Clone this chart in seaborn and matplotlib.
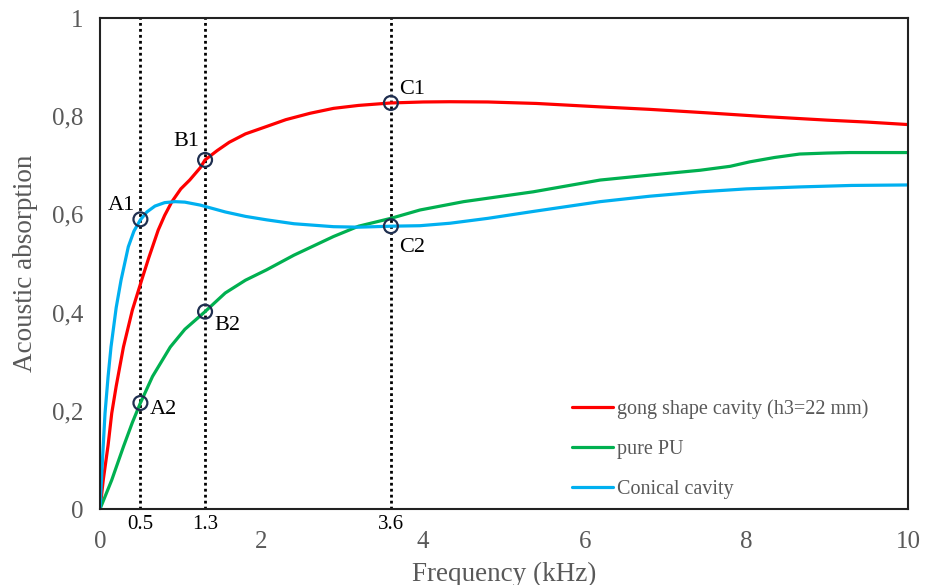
import numpy as np
import pandas as pd
import matplotlib
matplotlib.use('Agg')
import matplotlib.pyplot as plt
import seaborn as sns

# values (frequency in kHz, absorption coefficient)
freq_gong = [0, 0.04, 0.1, 0.145, 0.2, 0.29, 0.4, 0.515, 0.6, 0.72, 0.8, 0.89, 1.0, 1.11, 1.24, 1.3, 1.45, 1.6,
             1.8, 2.06, 2.3, 2.6, 2.89, 3.2, 3.6, 4.0, 4.33, 4.8, 5.4, 6.19, 6.8, 7.5, 8.25, 9.0, 9.5, 10.0]
abs_gong = [0, 0.059, 0.13, 0.195, 0.25, 0.33, 0.405, 0.466, 0.51, 0.568, 0.598, 0.626, 0.652, 0.67, 0.695, 0.711,
            0.73, 0.747, 0.764, 0.779, 0.793, 0.806, 0.816, 0.822, 0.827, 0.829, 0.8295, 0.829, 0.826, 0.819, 0.814,
            0.807, 0.799, 0.792, 0.788, 0.783]

freq_pu = [0, 0.145, 0.29, 0.4, 0.5, 0.65, 0.87, 1.05, 1.3, 1.55, 1.8, 2.06, 2.4, 2.89, 3.2, 3.6, 3.96, 4.5,
           5.36, 6.19, 6.8, 7.43, 7.8, 8.04, 8.35, 8.66, 9.0, 9.28, 9.6, 10.0]
abs_pu = [0, 0.059, 0.127, 0.176, 0.216, 0.27, 0.33, 0.366, 0.402, 0.44, 0.466, 0.487, 0.517, 0.555, 0.576, 0.592,
          0.609, 0.626, 0.646, 0.67, 0.68, 0.69, 0.698, 0.707, 0.716, 0.723, 0.725, 0.726, 0.726, 0.726]

freq_con = [0, 0.03, 0.062, 0.1, 0.136, 0.2, 0.26, 0.35, 0.42, 0.5, 0.58, 0.68, 0.8, 0.93, 1.05, 1.24, 1.55,
            1.8, 2.06, 2.4, 2.89, 3.2, 3.6, 3.96, 4.33, 4.8, 5.36, 6.19, 6.8, 7.43, 8.0, 8.66, 9.3, 10.0]
abs_con = [0, 0.1, 0.195, 0.27, 0.33, 0.41, 0.466, 0.534, 0.566, 0.589, 0.605, 0.617, 0.624, 0.626, 0.625, 0.619,
           0.605, 0.596, 0.589, 0.581, 0.575, 0.574, 0.576, 0.577, 0.582, 0.592, 0.606, 0.626, 0.637, 0.646, 0.652,
           0.656, 0.659, 0.660]

labels = ["gong shape cavity (h3=22 mm)", "pure PU", "Conical cavity"]
colors = ["#FF0000", "#00B050", "#00B0F0"]

marks_x = [0.5, 1.3, 3.6, 0.5, 1.3, 3.6]
marks_y = [0.59, 0.711, 0.827, 0.216, 0.402, 0.576]
marks_txt = ["A1", "B1", "C1", "A2", "B2", "C2"]
marks_off = [(-4, 10), (-4, 13), (6, 10), (7, -5), (7, -10), (6, -15)]

vlines = [0.5, 1.3, 3.6]

df = pd.concat([
    pd.DataFrame({"f": freq_gong, "a": abs_gong, "s": labels[0]}),
    pd.DataFrame({"f": freq_pu, "a": abs_pu, "s": labels[1]}),
    pd.DataFrame({"f": freq_con, "a": abs_con, "s": labels[2]}),
])

sns.set_style("white")
plt.rcParams['font.family'] = ['Liberation Serif', 'DejaVu Serif']

fig, ax = plt.subplots(figsize=(9.33, 5.85), dpi=100)
fig.subplots_adjust(left=0.1072, right=0.9732, top=0.9692, bottom=0.1299)

for v in vlines:
    ax.plot([v, v], [0, 1], color="black", linestyle=(0, (1, 1.15)), lw=2.0, zorder=1)

sns.lineplot(data=df, x="f", y="a", hue="s", palette=colors, hue_order=labels,
             lw=2.3, ax=ax, legend=False, sort=False, zorder=2)

ax.scatter(marks_x, marks_y, s=100, facecolors="none", edgecolors="#1F2F50", linewidths=1.6, zorder=3)
for x, y, t, o in zip(marks_x, marks_y, marks_txt, marks_off):
    ax.annotate(t, (x, y), xytext=o, textcoords="offset points", fontsize=16,
                ha="left" if o[0] > 0 else "right", va="center", color="black")

handles = [plt.Line2D([], [], color=c, lw=2.3) for c in colors]
ax.legend(handles, labels, loc="upper left", bbox_to_anchor=(0.574, 0.24), frameon=False,
          fontsize=14.5, labelcolor="#595959", handlelength=2.05, handletextpad=0.2,
          labelspacing=1.05, borderaxespad=0)

ax.set_xlim(0, 10)
ax.set_ylim(0, 1)
ax.set_xticks([0, 2, 4, 6, 8, 10])
ax.set_xticks(vlines, minor=True)
ax.set_xticklabels(["0.5", "1.3", "3.6"], minor=True, fontsize=15, color="black")
ax.set_yticks([0, 0.2, 0.4, 0.6, 0.8, 1.0])
ax.set_yticklabels(["0", "0,2", "0,4", "0,6", "0,8", "1"])
ax.tick_params(axis="x", which="major", length=0, pad=16, labelsize=18, labelcolor="#595959")
ax.tick_params(axis="x", which="minor", length=0, pad=4)
ax.tick_params(axis="y", length=0, pad=12, labelsize=18, labelcolor="#595959")

ax.set_xlabel("Frequency (kHz)", fontsize=19.5, color="#595959", labelpad=6)
ax.set_ylabel("Acoustic absorption", fontsize=19.5, color="#595959", labelpad=10)

for sp in ax.spines.values():
    sp.set_visible(True)
    sp.set_color("#222222")
    sp.set_linewidth(1.5)

fig.savefig("out.png", dpi=100)
